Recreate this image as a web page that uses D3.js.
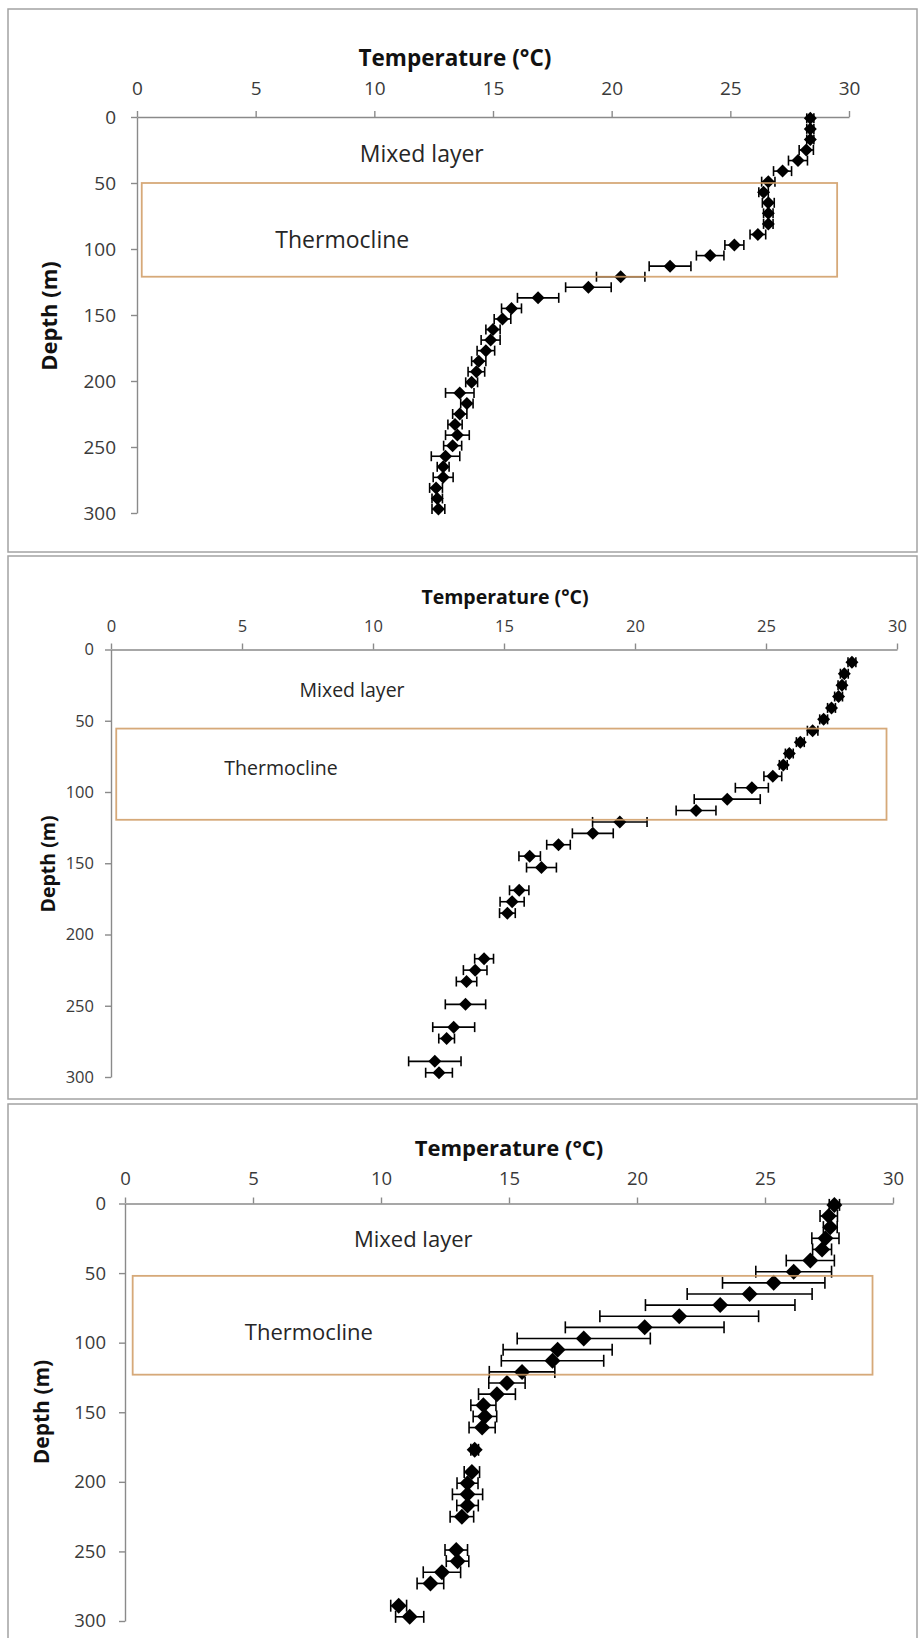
<!DOCTYPE html>
<html>
<head>
<meta charset="utf-8">
<script src="https://cdn.jsdelivr.net/npm/d3@7"></script>
<style>
  body { margin: 0; background: #fff; }
  svg { display: block; }
</style>
</head>
<body>
<svg id="chart"></svg>
<script>
// tick values shared by the three profiles
const tempTicks = [0, 5, 10, 15, 20, 25, 30];
const depthTicks = [0, 50, 100, 150, 200, 250, 300];

// profile 1
const depth1 = [1, 9, 17, 25, 33, 41, 49, 57, 65, 73, 81, 89, 97, 105, 113, 121, 129, 137, 145, 153,
    161, 169, 177, 185, 193, 201, 209, 217, 225, 233, 241, 249, 257, 265, 273, 281, 289, 297];
const temp1 = [28.37, 28.37, 28.37, 28.2, 27.85, 27.2, 26.6, 26.4, 26.6, 26.6, 26.6, 26.16, 25.17, 24.15, 22.46, 20.38, 19.02, 16.9, 15.78, 15.4,
    15.0, 14.9, 14.7, 14.4, 14.3, 14.1, 13.6, 13.9, 13.6, 13.4, 13.5, 13.3, 13.0, 12.9, 12.9, 12.6, 12.65, 12.7];
const err1 = [0.15, 0.15, 0.15, 0.3, 0.4, 0.38, 0.28, 0.2, 0.25, 0.2, 0.2, 0.33, 0.4, 0.58, 0.88, 1.02, 0.96, 0.87, 0.42, 0.35,
    0.3, 0.4, 0.37, 0.3, 0.35, 0.25, 0.6, 0.26, 0.3, 0.3, 0.5, 0.38, 0.6, 0.25, 0.42, 0.27, 0.22, 0.27];
const boxTemp1 = [0.2, 29.5];
const boxDepth1 = [50, 121];

// profile 2
const depth2 = [9, 17, 25, 33, 41, 49, 57, 65, 73, 81, 89, 97, 105, 113, 121, 129, 137, 145, 153, 169,
    177, 185, 217, 225, 233, 249, 265, 273, 289, 297];
const temp2 = [28.28, 27.99, 27.9, 27.77, 27.5, 27.2, 26.78, 26.31, 25.89, 25.66, 25.26, 24.46, 23.52, 22.33, 19.42, 18.39, 17.08, 15.98, 16.43, 15.58,
    15.31, 15.13, 14.24, 13.9, 13.57, 13.53, 13.08, 12.81, 12.36, 12.52];
const err2 = [0.15, 0.15, 0.15, 0.15, 0.15, 0.15, 0.2, 0.15, 0.15, 0.15, 0.34, 0.63, 1.26, 0.76, 1.04, 0.78, 0.45, 0.41, 0.57, 0.37,
    0.46, 0.3, 0.36, 0.45, 0.39, 0.77, 0.8, 0.3, 1.0, 0.51];
const boxTemp2 = [0.2, 29.6];
const boxDepth2 = [55.5, 119.5];

// profile 3
const depth3 = [1, 9, 17, 25, 33, 41, 49, 57, 65, 73, 81, 89, 97, 105, 113, 121, 129, 137, 145, 153,
    161, 177, 193, 201, 209, 217, 225, 249, 257, 265, 273, 289, 297];
const temp3 = [27.71, 27.49, 27.55, 27.36, 27.23, 26.77, 26.12, 25.34, 24.4, 23.25, 21.65, 20.3, 17.92, 16.9, 16.7, 15.51, 14.92, 14.53, 14.0, 14.06,
    13.95, 13.66, 13.55, 13.38, 13.38, 13.38, 13.16, 12.94, 12.99, 12.38, 11.93, 10.69, 11.12];
const err3 = [0.2, 0.34, 0.27, 0.53, 0.37, 0.94, 1.48, 2.0, 2.44, 2.92, 3.1, 3.1, 2.6, 2.13, 2.0, 1.28, 0.71, 0.72, 0.49, 0.46,
    0.51, 0.15, 0.3, 0.41, 0.59, 0.42, 0.46, 0.44, 0.44, 0.73, 0.52, 0.31, 0.55];
const boxTemp3 = [0.3, 29.2];
const boxDepth3 = [52, 123];

const W = 918, H = 1638;
const FONT = "'Open Sans', 'DejaVu Sans', sans-serif";

// layout of each panel (pixels), annotation spots are in data units
const panels = [
    {
        depth: depth1, temp: temp1, err: err1, boxTemp: boxTemp1, boxDepth: boxDepth1,
        frame: [9, 552], xRange: [137, 849], yRange: [117, 513],
        tickFont: 19, xPad: 16, yPad: 15,
        titleFont: 22.5, titleX: 455, titleY: 57,
        depthFont: 22, depthX: 48, depthY: 316,
        noteFont: 23, mixed: [12.0, 27.6], thermo: [8.65, 92.4],
        r: 6.5, cap: 5,
    },
    {
        depth: depth2, temp: temp2, err: err2, boxTemp: boxTemp2, boxDepth: boxDepth2,
        frame: [556, 1099], xRange: [111, 897], yRange: [649.5, 1077],
        tickFont: 16.5, xPad: 12, yPad: 11,
        titleFont: 19.5, titleX: 505, titleY: 596,
        depthFont: 19.5, depthX: 47, depthY: 864,
        noteFont: 19.5, mixed: [9.2, 28.4], thermo: [6.49, 82.5],
        r: 6.5, cap: 5,
    },
    {
        depth: depth3, temp: temp3, err: err3, boxTemp: boxTemp3, boxDepth: boxDepth3,
        frame: [1104, 1660], xRange: [125, 893], yRange: [1203.5, 1621],
        tickFont: 18.5, xPad: 13, yPad: 13,
        titleFont: 22, titleX: 509, titleY: 1147,
        depthFont: 21, depthX: 41, depthY: 1412,
        noteFont: 22, mixed: [11.26, 24.8], thermo: [7.18, 91.7],
        r: 8, cap: 6,
    },
];

const svg = d3.select("#chart")
    .attr("width", W)
    .attr("height", H)
    .style("font-family", FONT);

svg.append("rect").attr("width", W).attr("height", H).attr("fill", "#fff");

function drawPanel(p) {
    // panel frame
    svg.append("rect")
        .attr("x", 8)
        .attr("y", p.frame[0])
        .attr("width", 909)
        .attr("height", p.frame[1] - p.frame[0])
        .attr("fill", "none")
        .attr("stroke", "#a3a3a3")
        .attr("stroke-width", 1.5);

    const x = d3.scaleLinear().domain([0, 30]).range(p.xRange);
    const y = d3.scaleLinear().domain([0, 300]).range(p.yRange);

    const xAxis = d3.axisTop(x).tickValues(tempTicks).tickSize(6).tickSizeOuter(0).tickPadding(p.xPad);
    const yAxis = d3.axisLeft(y).tickValues(depthTicks).tickSize(6).tickSizeOuter(0).tickPadding(p.yPad);

    const gx = svg.append("g")
        .attr("transform", `translate(0, ${y(0)})`)
        .call(xAxis);
    const gy = svg.append("g")
        .attr("transform", `translate(${x(0)}, 0)`)
        .call(yAxis);

    [gx, gy].forEach((g) => {
        g.attr("font-family", FONT).attr("font-size", p.tickFont);
        g.selectAll("path, line").attr("stroke", "#8a8a8a").attr("stroke-width", 1.4);
        g.selectAll("text").attr("fill", "#3a3a3a");
    });

    // axis titles
    svg.append("text")
        .attr("x", p.titleX)
        .attr("y", p.titleY)
        .attr("text-anchor", "middle")
        .attr("dominant-baseline", "central")
        .attr("font-size", p.titleFont)
        .attr("font-weight", "bold")
        .attr("fill", "#111")
        .text("Temperature (°C)");

    svg.append("text")
        .attr("transform", `translate(${p.depthX}, ${p.depthY}) rotate(-90)`)
        .attr("text-anchor", "middle")
        .attr("dominant-baseline", "central")
        .attr("font-size", p.depthFont)
        .attr("font-weight", "bold")
        .attr("fill", "#111")
        .text("Depth (m)");

    // layer labels
    svg.append("text")
        .attr("x", x(p.mixed[0]))
        .attr("y", y(p.mixed[1]))
        .attr("text-anchor", "middle")
        .attr("dominant-baseline", "central")
        .attr("font-size", p.noteFont)
        .attr("fill", "#262626")
        .text("Mixed layer");

    svg.append("text")
        .attr("x", x(p.thermo[0]))
        .attr("y", y(p.thermo[1]))
        .attr("text-anchor", "middle")
        .attr("dominant-baseline", "central")
        .attr("font-size", p.noteFont)
        .attr("fill", "#262626")
        .text("Thermocline");

    const rows = p.depth.map((d, i) => ({ depth: d, temp: p.temp[i], err: p.err[i] }));

    // horizontal error bars with caps
    const bars = svg.append("g")
        .attr("stroke", "#000")
        .attr("stroke-width", 1.6);

    bars.selectAll(".err")
        .data(rows)
        .join("line")
        .attr("class", "err")
        .attr("x1", (d) => x(d.temp - d.err))
        .attr("x2", (d) => x(d.temp + d.err))
        .attr("y1", (d) => y(d.depth))
        .attr("y2", (d) => y(d.depth));

    bars.selectAll(".cap")
        .data(rows.flatMap((d) => [{ t: d.temp - d.err, depth: d.depth }, { t: d.temp + d.err, depth: d.depth }]))
        .join("line")
        .attr("class", "cap")
        .attr("x1", (d) => x(d.t))
        .attr("x2", (d) => x(d.t))
        .attr("y1", (d) => y(d.depth) - p.cap)
        .attr("y2", (d) => y(d.depth) + p.cap);

    // diamond markers
    const r = p.r;
    svg.append("g")
        .selectAll(".pt")
        .data(rows)
        .join("path")
        .attr("class", "pt")
        .attr("d", `M0,${-r}L${r},0L0,${r}L${-r},0Z`)
        .attr("transform", (d) => `translate(${x(d.temp)}, ${y(d.depth)})`)
        .attr("fill", "#000");

    // thermocline box, drawn over the profile like in the original
    svg.append("rect")
        .attr("x", x(p.boxTemp[0]))
        .attr("y", y(p.boxDepth[0]))
        .attr("width", x(p.boxTemp[1]) - x(p.boxTemp[0]))
        .attr("height", y(p.boxDepth[1]) - y(p.boxDepth[0]))
        .attr("fill", "none")
        .attr("stroke", "#cf9a62")
        .attr("stroke-opacity", 0.85)
        .attr("stroke-width", 1.8);
}

panels.forEach(drawPanel);
</script>
</body>
</html>
